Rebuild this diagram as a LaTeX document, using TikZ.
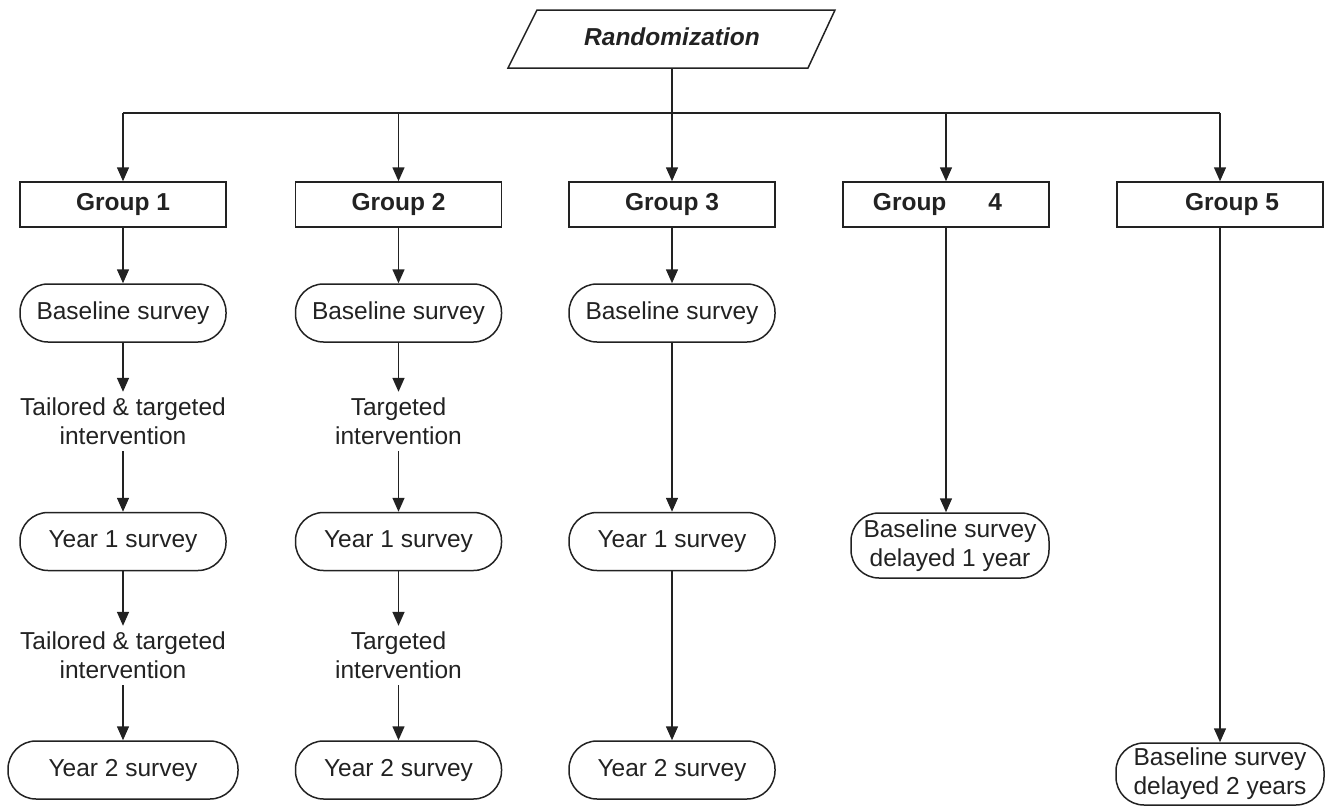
\documentclass[tikz,border=0pt]{standalone}
\usepackage{fontspec}
\setmainfont{Liberation Sans}
\usetikzlibrary{arrows.meta}
\definecolor{ink}{HTML}{222222}
\begin{document}
\begin{tikzpicture}[x=1pt,y=-1pt,
  every node/.style={text=ink, font=\fontsize{24.5}{29}\selectfont},
  grp/.style={draw=ink, line width=1.5pt, minimum width=206pt, minimum height=45pt, inner sep=0pt, font=\fontsize{24.5}{29}\selectfont\bfseries},
  srv/.style={draw=ink, line width=1.5pt, rounded corners=28pt, minimum width=206pt, minimum height=58pt, inner sep=0pt},
  dly/.style={draw=ink, line width=1.5pt, rounded corners=28pt, align=center, inner sep=0pt},
  itv/.style={align=center, inner sep=6pt},
  arr/.style={draw=ink, line width=1.5pt, -{Triangle[width=12pt,length=14pt]}},
  ln/.style={draw=ink, line width=1.5pt}]
\useasboundingbox (0,0) rectangle (1334,806);
% randomization
\draw[ln, line join=miter] (537,10) -- (835,10) -- (808,68) -- (508,68) -- cycle;
\node (rand) at (672,37) {\bfseries\itshape Randomization};
\coordinate (randbot) at (672,68);
\coordinate (bus) at (672,113);
% groups
\node[grp] (g1) at (123,204.5) {Group 1};
\node[grp] (g2) at (398.5,204.5) {Group 2};
\node[grp] (g3) at (672,204.5) {Group 3};
\node[grp] (g4) at (946,204.5) {Group\hspace{42pt}4\hspace*{17pt}};
\node[grp] (g5) at (1220,204.5) {\hspace*{24pt}Group 5};
\draw[ln] (randbot) -- (bus);
\draw[ln] (g1 |- bus) -- (g5 |- bus);
\foreach \g in {g1,g2,g3,g4,g5} \draw[arr] (\g |- bus) -- (\g.north);
% column 1
\node[srv] (b1) at (123,313) {Baseline survey};
\node[itv] (i1) at (123,421.5) {Tailored \& targeted\\intervention};
\node[srv] (y1) at (123,541.5) {Year 1 survey};
\node[itv] (j1) at (123,655.5) {Tailored \& targeted\\intervention};
\node[srv, minimum width=230pt] (z1) at (123,770) {Year 2 survey};
\draw[arr] (g1.south) -- (b1.north);
\draw[arr] (b1.south) -- (i1.north);
\draw[arr] (i1.south) -- (y1.north);
\draw[arr] (y1.south) -- (j1.north);
\draw[arr] (j1.south) -- (z1.north);
% column 2
\node[srv] (b2) at (398.5,313) {Baseline survey};
\node[itv] (i2) at (398.5,421.5) {Targeted\\intervention};
\node[srv] (y2) at (398.5,541.5) {Year 1 survey};
\node[itv] (j2) at (398.5,655.5) {Targeted\\intervention};
\node[srv] (z2) at (398.5,770) {Year 2 survey};
\draw[arr] (g2.south) -- (b2.north);
\draw[arr] (b2.south) -- (i2.north);
\draw[arr] (i2.south) -- (y2.north);
\draw[arr] (y2.south) -- (j2.north);
\draw[arr] (j2.south) -- (z2.north);
% column 3
\node[srv] (b3) at (672,313) {Baseline survey};
\node[srv] (y3) at (672,541.5) {Year 1 survey};
\node[srv] (z3) at (672,770) {Year 2 survey};
\draw[arr] (g3.south) -- (b3.north);
\draw[arr] (b3.south) -- (y3.north);
\draw[arr] (y3.south) -- (z3.north);
% column 4
\node[dly, minimum width=198pt, minimum height=65pt] (d4) at (950,545.5) {Baseline survey\\delayed 1 year};
\draw[arr] (g4.south) -- (g4.south |- d4.north);
% column 5
\node[dly, minimum width=208pt, minimum height=62pt] (d5) at (1220,774) {Baseline survey\\delayed 2 years};
\draw[arr] (g5.south) -- (d5.north);
\end{tikzpicture}
\end{document}
